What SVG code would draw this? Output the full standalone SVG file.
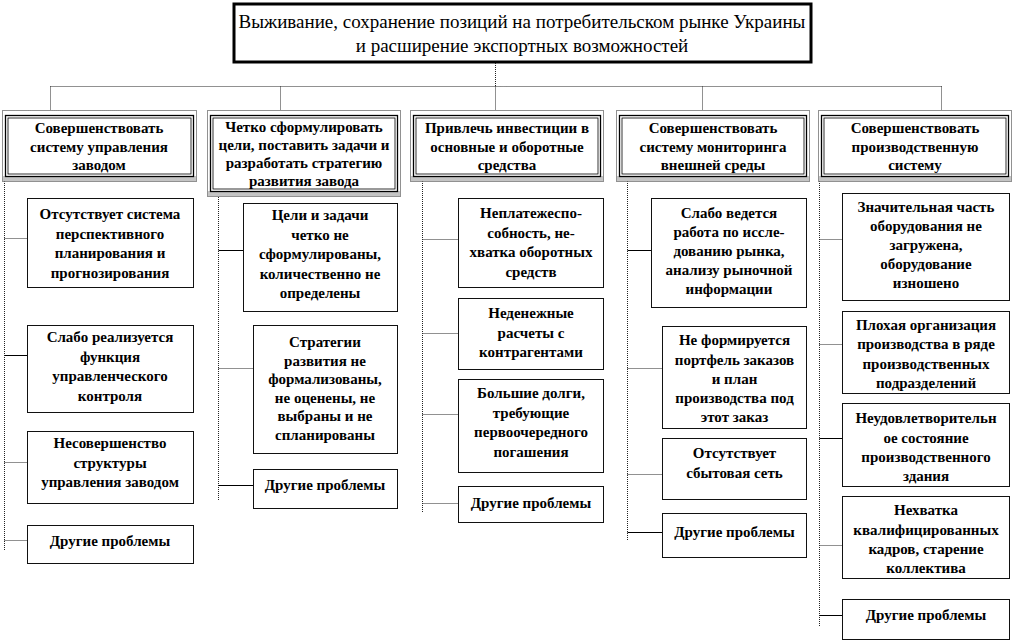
<svg xmlns="http://www.w3.org/2000/svg" width="1014" height="642" viewBox="0 0 1014 642">
<style>
text{font-family:'Liberation Serif','Times New Roman','DejaVu Serif',serif;fill:#000;text-anchor:middle}
.t{font-size:15px;font-weight:bold}
.title{font-size:19px}
.box{fill:#fff;stroke:#111;stroke-width:1}
.hout{fill:#fff;stroke:#222;stroke-width:1;stroke-dasharray:1 1}
.hband{fill:#c4c4c4}
.hin1{fill:#fff;stroke:#000;stroke-width:1.3}
.hin2{fill:none;stroke:#000;stroke-width:0.8}
.dot{fill:none;stroke:#222;stroke-width:1;stroke-dasharray:1 1}
.sol{fill:none;stroke:#000;stroke-width:1}
</style>

<g id="title">
<rect x="234" y="4" width="577" height="58" fill="#fff" stroke="#000" stroke-width="3"/>
<text class="title" x="522" y="28">Выживание, сохранение позиций на потребительском рынке Украины</text>
<text class="title" x="522" y="52">и расширение экспортных возможностей</text>
</g>

<g id="connectors">
<path class="dot" d="M495.5 63V86.5M50.5 86.5H941.5M50.5 86.5V110M280.5 86.5V110M495.5 86.5V110M702.5 86.5V110M941.5 86.5V110"/>
<path class="dot" d="M4.5 181V550"/>
<path class="dot" d="M4.5 238.5H27M4.5 462.5H27M4.5 540.5H27"/>
<path class="sol" d="M4.5 355.5H27"/>
<path class="dot" d="M218.5 197V500"/>
<path class="sol" d="M218.5 250.5H243M218.5 485.5H253"/>
<path class="dot" d="M218.5 368.5H253"/>
<path class="dot" d="M422.5 181V512"/>
<path class="dot" d="M422.5 239.5H458M422.5 333.5H458M422.5 414.5H458M422.5 503.5H458"/>
<path class="dot" d="M627.5 181V540"/>
<path class="sol" d="M627.5 250.5H651M627.5 532.5H662"/>
<path class="dot" d="M627.5 368.5H662M627.5 474.5H662"/>
<path class="dot" d="M819.5 181V627"/>
<path class="dot" d="M819.5 239.5H842M819.5 344.5H842M819.5 545.5H842"/>
<path class="sol" d="M819.5 438.5H842M819.5 615.5H842"/>
</g>

<g id="h1">
<rect class="hout" x="2.5" y="110.5" width="194" height="71"/>
<rect class="hband" x="3" y="176" width="193" height="5"/>
<rect class="hin1" x="5.5" y="115.5" width="188" height="61"/>
<rect class="hin2" x="8" y="118" width="183" height="56"/>
<text class="t" x="99" y="133">Совершенствовать</text>
<text class="t" x="99" y="151.5">систему управления</text>
<text class="t" x="99" y="170">заводом</text>
</g>
<g id="h2">
<rect class="hout" x="207.5" y="110.5" width="193" height="86"/>
<rect class="hband" x="208" y="191" width="192" height="5"/>
<rect class="hin1" x="210.5" y="115.5" width="187" height="76"/>
<rect class="hin2" x="213" y="118" width="182" height="71"/>
<text class="t" x="304" y="132">Четко сформулировать</text>
<text class="t" x="304" y="150">цели, поставить задачи и</text>
<text class="t" x="304" y="168">разработать стратегию</text>
<text class="t" x="304" y="186">развития завода</text>
</g>
<g id="h3">
<rect class="hout" x="410.5" y="110.5" width="193" height="71"/>
<rect class="hband" x="411" y="176" width="192" height="5"/>
<rect class="hin1" x="413.5" y="115.5" width="187" height="61"/>
<rect class="hin2" x="416" y="118" width="182" height="56"/>
<text class="t" x="507" y="133">Привлечь инвестиции в</text>
<text class="t" x="507" y="151.5">основные и оборотные</text>
<text class="t" x="507" y="170">средства</text>
</g>
<g id="h4">
<rect class="hout" x="616.5" y="110.5" width="193" height="71"/>
<rect class="hband" x="617" y="176" width="192" height="5"/>
<rect class="hin1" x="619.5" y="115.5" width="187" height="61"/>
<rect class="hin2" x="622" y="118" width="182" height="56"/>
<text class="t" x="713" y="133">Совершенствовать</text>
<text class="t" x="713" y="151.5">систему мониторинга</text>
<text class="t" x="713" y="170">внешней среды</text>
</g>
<g id="h5">
<rect class="hout" x="818.5" y="110.5" width="193" height="71"/>
<rect class="hband" x="819" y="176" width="192" height="5"/>
<rect class="hin1" x="821.5" y="115.5" width="187" height="61"/>
<rect class="hin2" x="824" y="118" width="182" height="56"/>
<text class="t" x="915" y="133">Совершенствовать</text>
<text class="t" x="915" y="151.5">производственную</text>
<text class="t" x="915" y="170">систему</text>
</g>

<g id="c1b1"><rect class="box" x="27.5" y="198.5" width="166" height="89"/>
<text class="t" x="110" y="219">Отсутствует система</text><text class="t" x="110" y="238.5">перспективного</text><text class="t" x="110" y="258">планирования и</text><text class="t" x="110" y="277.5">прогнозирования</text></g>
<g id="c1b2"><rect class="box" x="27.5" y="325.5" width="166" height="87"/>
<text class="t" x="110" y="342">Слабо реализуется</text><text class="t" x="110" y="361.5">функция</text><text class="t" x="110" y="381">управленческого</text><text class="t" x="110" y="400.5">контроля</text></g>
<g id="c1b3"><rect class="box" x="27.5" y="431.5" width="166" height="72"/>
<text class="t" x="110" y="448">Несовершенство</text><text class="t" x="110" y="467.5">структуры</text><text class="t" x="110" y="487">управления заводом</text></g>
<g id="c1b4"><rect class="box" x="27.5" y="525.5" width="166" height="38"/>
<text class="t" x="110" y="546">Другие проблемы</text></g>

<g id="c2b1"><rect class="box" x="243.5" y="203.5" width="154" height="108"/>
<text class="t" x="320" y="220">Цели и задачи</text><text class="t" x="320" y="239.5">четко не</text><text class="t" x="320" y="259">сформулированы,</text><text class="t" x="320" y="278.5">количественно не</text><text class="t" x="320" y="298">определены</text></g>
<g id="c2b2"><rect class="box" x="253.5" y="325.5" width="144" height="128"/>
<text class="t" x="325" y="347">Стратегии</text><text class="t" x="325" y="365.5">развития не</text><text class="t" x="325" y="384">формализованы,</text><text class="t" x="325" y="402.5">не оценены, не</text><text class="t" x="325" y="421">выбраны и не</text><text class="t" x="325" y="439.5">спланированы</text></g>
<g id="c2b3"><rect class="box" x="253.5" y="469.5" width="144" height="39"/>
<text class="t" x="325" y="490">Другие проблемы</text></g>

<g id="c3b1"><rect class="box" x="458.5" y="198.5" width="145" height="89"/>
<text class="t" x="531" y="218">Неплатежеспо-</text><text class="t" x="531" y="237.5">собность, не-</text><text class="t" x="531" y="257">хватка оборотных</text><text class="t" x="531" y="276.5">средств</text></g>
<g id="c3b2"><rect class="box" x="458.5" y="298.5" width="145" height="71"/>
<text class="t" x="531" y="318">Неденежные</text><text class="t" x="531" y="337.5">расчеты с</text><text class="t" x="531" y="357">контрагентами</text></g>
<g id="c3b3"><rect class="box" x="458.5" y="379.5" width="145" height="93"/>
<text class="t" x="531" y="398">Большие долги,</text><text class="t" x="531" y="417.5">требующие</text><text class="t" x="531" y="437">первоочередного</text><text class="t" x="531" y="456.5">погашения</text></g>
<g id="c3b4"><rect class="box" x="458.5" y="486.5" width="145" height="36"/>
<text class="t" x="531" y="508">Другие проблемы</text></g>

<g id="c4b1"><rect class="box" x="651.5" y="198.5" width="155" height="109"/>
<text class="t" x="729" y="218">Слабо ведется</text><text class="t" x="729" y="237">работа по иссле-</text><text class="t" x="729" y="256">дованию рынка,</text><text class="t" x="729" y="275">анализу рыночной</text><text class="t" x="729" y="294">информации</text></g>
<g id="c4b2"><rect class="box" x="662.5" y="326.5" width="144" height="102"/>
<text class="t" x="734.5" y="345">Не формируется</text><text class="t" x="734.5" y="364.5">портфель заказов</text><text class="t" x="734.5" y="384">и план</text><text class="t" x="734.5" y="403">производства под</text><text class="t" x="734.5" y="422">этот заказ</text></g>
<g id="c4b3"><rect class="box" x="662.5" y="438.5" width="144" height="61"/>
<text class="t" x="734.5" y="458">Отсутствует</text><text class="t" x="734.5" y="478">сбытовая сеть</text></g>
<g id="c4b4"><rect class="box" x="662.5" y="513.5" width="144" height="44"/>
<text class="t" x="734.5" y="537">Другие проблемы</text></g>

<g id="c5b1"><rect class="box" x="842.5" y="193.5" width="167" height="107"/>
<text class="t" x="926" y="212">Значительная часть</text><text class="t" x="926" y="231">оборудования не</text><text class="t" x="926" y="250">загружена,</text><text class="t" x="926" y="269">оборудование</text><text class="t" x="926" y="288">изношено</text></g>
<g id="c5b2"><rect class="box" x="842.5" y="311.5" width="167" height="82"/>
<text class="t" x="926" y="330">Плохая организация</text><text class="t" x="926" y="349">производства в ряде</text><text class="t" x="926" y="368.5">производственных</text><text class="t" x="926" y="388">подразделений</text></g>
<g id="c5b3"><rect class="box" x="842.5" y="403.5" width="167" height="83"/>
<text class="t" x="926" y="423">Неудовлетворительн</text><text class="t" x="926" y="442.5">ое состояние</text><text class="t" x="926" y="462">производственного</text><text class="t" x="926" y="481">здания</text></g>
<g id="c5b4"><rect class="box" x="842.5" y="496.5" width="167" height="82"/>
<text class="t" x="926" y="515">Нехватка</text><text class="t" x="926" y="534.5">квалифицированных</text><text class="t" x="926" y="554">кадров, старение</text><text class="t" x="926" y="573">коллектива</text></g>
<g id="c5b5"><rect class="box" x="842.5" y="599.5" width="167" height="40"/>
<text class="t" x="926" y="620">Другие проблемы</text></g>
</svg>
